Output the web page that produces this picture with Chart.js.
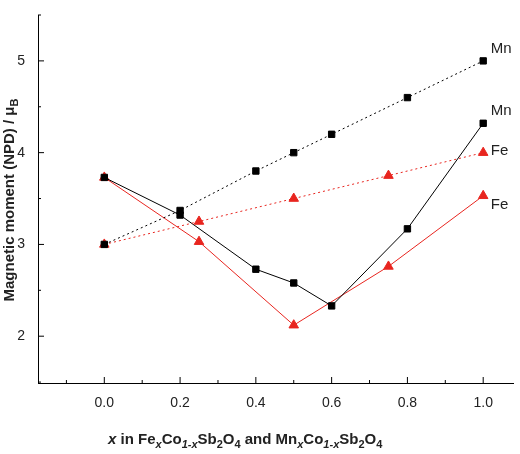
<!DOCTYPE html><html><head><script src="https://cdn.jsdelivr.net/npm/chart.js@4"></script>
<style>body{margin:0;background:#fff}#w{width:520px;height:454px}</style></head><body><div id="w"><canvas id="c"></canvas></div>
<script>
const mnNomX=[0,0.2,0.4,0.5,0.6,0.8,1.0];
const mnNomY=[3.0,3.37,3.8,4.0,4.2,4.6,5.0];
const feNomX=[0,0.25,0.5,0.75,1.0];
const feNomY=[3.0,3.25,3.5,3.75,4.0];
const mnNpdX=[0,0.2,0.4,0.5,0.6,0.8,1.0];
const mnNpdY=[3.73,3.32,2.73,2.58,2.33,3.17,4.32];
const feNpdX=[0,0.25,0.5,0.75,1.0];
const feNpdY=[3.73,3.03,2.12,2.76,3.53];
const xTicks=[0,0.2,0.4,0.6,0.8,1.0];
const yTicks=[2,3,4,5];
const pts=(xs,ys)=>xs.map((x,i)=>({x:x,y:ys[i]}));
const labels=[{t:'Mn',x:1.02,y:5.13},{t:'Mn',x:1.02,y:4.45},{t:'Fe',x:1.02,y:4.02},{t:'Fe',x:1.02,y:3.43}];
const RED='#e8251f';
function ds(xs,ys,c,dash,shape){return{data:pts(xs,ys),borderColor:c,backgroundColor:c,borderWidth:1,borderDash:dash,pointStyle:shape,pointRadius:shape==='rect'?4.5:5.5,showLine:true,tension:0};}
const deco={id:'deco',afterDraw(ch){const c=ch.ctx,xs=ch.scales.x,ys=ch.scales.y,a=ch.chartArea;c.save();c.strokeStyle='#000';c.lineWidth=1;
c.beginPath();
for(let v=-0.1;v<=1.09;v+=0.1){const p=xs.getPixelForValue(v),maj=Math.abs(Math.round(v*10)%2)===0;c.moveTo(p,a.bottom);c.lineTo(p,a.bottom-(maj?6:3));}
for(let v=1.5;v<=5.5;v+=0.5){const p=ys.getPixelForValue(v),maj=Math.abs(v-Math.round(v))<0.01;c.moveTo(a.left,p);c.lineTo(a.left+(maj?6:3),p);}
c.stroke();
c.fillStyle='#222';c.font='15px Arial';c.textBaseline='middle';
labels.forEach(l=>c.fillText(l.t,xs.getPixelForValue(l.x),ys.getPixelForValue(l.y)));
c.font='bold 15px Arial';c.fillStyle='#222';let x=108,y=440;
const segs=[['x',0,1],[' in Fe',0,0],['x',1,1],['Co',0,0],['1-x',1,1],['Sb',0,0],['2',1,0],['O',0,0],['4',1,0],[' and Mn',0,0],['x',1,1],['Co',0,0],['1-x',1,1],['Sb',0,0],['2',1,0],['O',0,0],['4',1,0]];
segs.forEach(s=>{c.font=(s[2]?'italic ':'')+'bold '+(s[1]?'11px':'15px')+' Arial';c.fillText(s[0],x,y+(s[1]?5:0));x+=c.measureText(s[0]).width;});
c.translate(10,200);c.rotate(-Math.PI/2);c.font='bold 15px Arial';
const t='Magnetic moment (NPD) / μ';const w=c.measureText(t).width;c.textAlign='left';c.fillText(t,-w/2-4,0);c.font='bold 11px Arial';c.fillText('B',w/2-4,5);
c.restore();}};
new Chart(document.getElementById('c'),{type:'scatter',data:{datasets:[
ds(mnNomX,mnNomY,'#000',[2,3],'rect'),ds(feNomX,feNomY,RED,[2,3],'triangle'),ds(mnNpdX,mnNpdY,'#000',[],'rect'),ds(feNpdX,feNpdY,RED,[],'triangle')]},
options:{responsive:true,maintainAspectRatio:false,animation:false,layout:{padding:{top:15,right:6}},plugins:{legend:{display:false},tooltip:{enabled:false}},
scales:{x:{min:-0.175,max:1.08,afterBuildTicks:s=>{s.ticks=xTicks.map(v=>({value:v}))},afterFit:s=>{s.height=71},grid:{display:false},border:{color:'#000'},ticks:{color:'#222',font:{size:14,family:'Arial'},padding:4,callback:v=>v.toFixed(1)}},
y:{min:1.49,max:5.5,afterBuildTicks:s=>{s.ticks=yTicks.map(v=>({value:v}))},afterFit:s=>{s.width=38},grid:{display:false},border:{color:'#000'},ticks:{color:'#222',font:{size:14,family:'Arial'},padding:5}}}},
plugins:[deco]});
</script></body></html>
